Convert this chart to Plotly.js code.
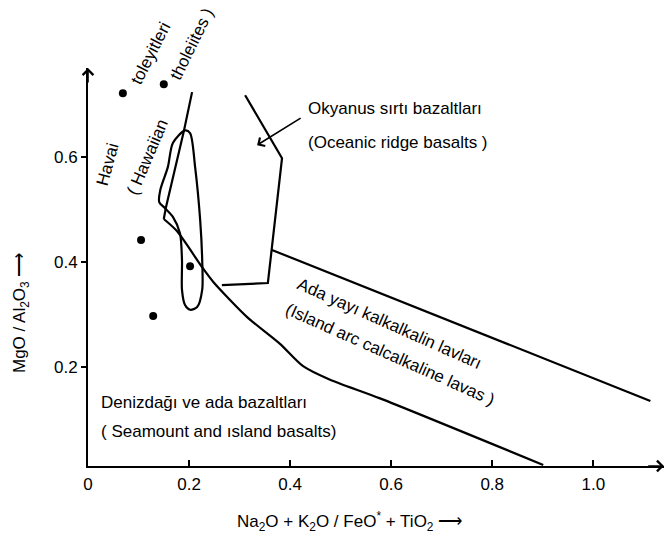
<!DOCTYPE html>
<html>
<head>
<meta charset="utf-8">
<script src="https://cdn.plot.ly/plotly-3.0.1.min.js"></script>
<style>html,body{margin:0;padding:0;background:#fff;}#chart{width:668px;height:537px;}</style>
</head>
<body>
<div id="chart"></div>
<script>
// Seamount / island-arc boundary (continuous line from top through the kink down to x axis)
const boundaryX = [0.206, 0.190, 0.154, 0.150, 0.176, 0.226, 0.248, 0.315, 0.380, 0.425, 0.478, 0.578, 0.901];
const boundaryY = [0.724, 0.651, 0.503, 0.482, 0.459, 0.390, 0.362, 0.295, 0.244, 0.202, 0.176, 0.140, 0.013];
// Hawaiian tholeiite closed loop
const loopX = [0.192, 0.168, 0.158, 0.143, 0.141, 0.152, 0.168, 0.182, 0.186, 0.186, 0.192, 0.202, 0.216, 0.226, 0.226, 0.222, 0.212, 0.202, 0.192];
const loopY = [0.651, 0.627, 0.581, 0.537, 0.514, 0.503, 0.486, 0.455, 0.404, 0.347, 0.318, 0.309, 0.314, 0.347, 0.404, 0.480, 0.581, 0.646, 0.651];
// Oceanic ridge field outline
const ridgeX = [0.311, 0.384, 0.356, 0.265];
const ridgeY = [0.718, 0.598, 0.360, 0.356];
// Island arc upper boundary
const arcX = [0.364, 1.113];
const arcY = [0.423, 0.135];
// Hawaiian tholeiite sample points
const dotX = [0.069, 0.150, 0.105, 0.202, 0.129];
const dotY = [0.722, 0.739, 0.442, 0.392, 0.297];
// Axis ticks
const xTickVals = [0, 0.2, 0.4, 0.6, 0.8, 1.0];
const xTickText = ["0", "0.2", "0.4", "0.6", "0.8", "1.0"];
const yTickVals = [0.2, 0.4, 0.6];
const yTickText = ["0.2", "0.4", "0.6"];

const FONT = "Liberation Sans, Arial, sans-serif";
const lineStyle = {color: "#000", width: 2.2};

const traces = [
  {x: boundaryX.slice(0, 4), y: boundaryY.slice(0, 4), mode: "lines", line: lineStyle, hoverinfo: "skip"},
  {x: boundaryX.slice(3), y: boundaryY.slice(3), mode: "lines", line: Object.assign({shape: "spline", smoothing: 0.7}, lineStyle), hoverinfo: "skip"},
  {x: loopX, y: loopY, mode: "lines", line: Object.assign({shape: "spline", smoothing: 0.8}, lineStyle), hoverinfo: "skip"},
  {x: ridgeX, y: ridgeY, mode: "lines", line: lineStyle, hoverinfo: "skip"},
  {x: arcX, y: arcY, mode: "lines", line: lineStyle, hoverinfo: "skip"},
  {x: dotX, y: dotY, mode: "markers", marker: {color: "#000", size: 8}, hoverinfo: "skip"}
];

// pixel -> paper helpers (plot area: x 88..664, y 68..466)
function pxX(p) { return (p - 88) / 576; }
function pxY(p) { return (466 - p) / 398; }
function txt(text, x, y, opts) {
  return Object.assign({text: text, x: pxX(x), y: pxY(y), xref: "paper", yref: "paper", showarrow: false,
    xanchor: "center", yanchor: "middle",
    font: {family: FONT, size: 17, color: "#000"}}, opts || {});
}
function px2x(p) { return (p - 88) / 505; }
function px2y(p) { return (472 - p) / 525; }

const annotations = [
  txt("Okyanus sırtı bazaltları", 306, 108, {xanchor: "left"}),
  txt("(Oceanic ridge basalts )", 306, 142, {xanchor: "left"}),
  txt("Denizdağı ve ada bazaltları", 99, 402, {xanchor: "left"}),
  txt("( Seamount and ısland basalts)", 99, 431, {xanchor: "left"}),
  txt("Ada yayı kalkalkalin lavları", 389, 323, {textangle: 24}),
  txt("(Island arc calcalkaline lavas )", 390, 354, {textangle: 24}),
  txt("Havai", 107, 165, {textangle: -75}),
  txt("toleyitleri", 151, 54, {textangle: -63}),
  txt("( Hawaiian", 147, 157, {textangle: -67}),
  txt("tholeiites )", 192, 45, {textangle: -64}),
  // pointer arrow to oceanic ridge field
  {x: px2x(257), y: px2y(145), ax: px2x(302), ay: px2y(117), xref: "x", yref: "y", axref: "x", ayref: "y",
   showarrow: true, arrowhead: 4, arrowsize: 1.2, arrowwidth: 1.6, arrowcolor: "#000", text: ""},
  // axis arrows
  {x: 1, y: 0, xref: "paper", yref: "paper", ax: 0.97, ay: 0, axref: "paper", ayref: "paper",
   showarrow: true, arrowhead: 4, arrowsize: 1.3, arrowwidth: 1.6, arrowcolor: "#000", text: ""},
  {x: 0, y: 1, xref: "paper", yref: "paper", ax: 0, ay: 0.96, axref: "paper", ayref: "paper",
   showarrow: true, arrowhead: 4, arrowsize: 1.3, arrowwidth: 1.6, arrowcolor: "#000", text: ""},
  // axis titles
  txt("MgO / Al<sub>2</sub>O<sub>3</sub> ⟶", 21, 313, {textangle: -90}),
  txt("Na<sub>2</sub>O + K<sub>2</sub>O / FeO<sup>*</sup> + TiO<sub>2</sub> ⟶", 349, 521)
];

const layout = {
  width: 668, height: 537,
  margin: {l: 88, r: 4, t: 68, b: 71, pad: 0},
  paper_bgcolor: "#fff", plot_bgcolor: "#fff",
  showlegend: false,
  xaxis: {range: [0, 1.14], showgrid: false, zeroline: false, showline: true, linecolor: "#000", linewidth: 2,
    ticks: "inside", ticklen: 6, tickwidth: 2, tickcolor: "#000",
    tickvals: xTickVals, ticktext: xTickText, ticklabelstandoff: 2,
    tickfont: {family: FONT, size: 17, color: "#000"}, fixedrange: true},
  yaxis: {range: [0.011, 0.77], showgrid: false, zeroline: false, showline: true, linecolor: "#000", linewidth: 2,
    ticks: "outside", ticklen: 5, tickwidth: 2, tickcolor: "#000",
    tickvals: yTickVals, ticktext: yTickText,
    tickfont: {family: FONT, size: 17, color: "#000"}, fixedrange: true},
  annotations: annotations
};

Plotly.newPlot("chart", traces, layout, {staticPlot: true, displayModeBar: false});
</script>
</body>
</html>
